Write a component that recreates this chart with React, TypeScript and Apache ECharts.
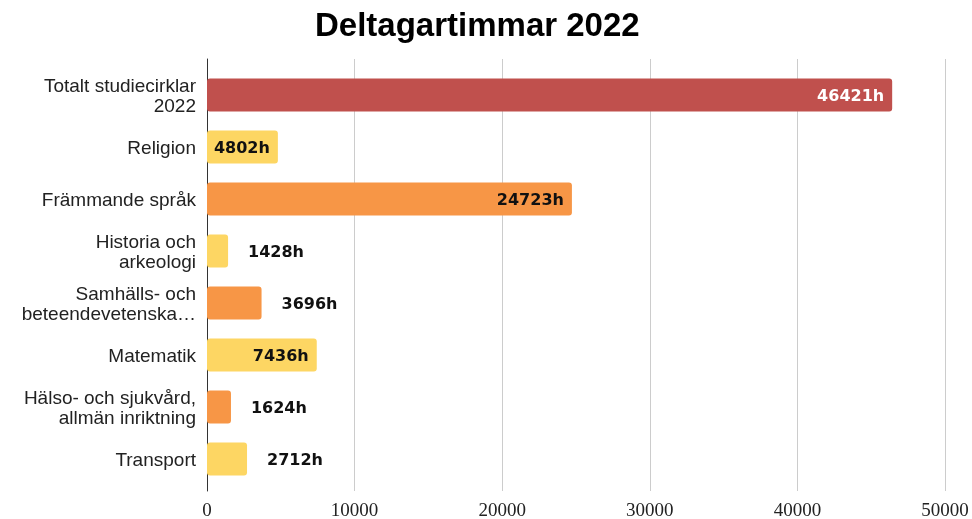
import React, { useEffect, useRef } from "react";
import * as echarts from "echarts";

const title = "Deltagartimmar 2022";
const categories = [
  "Totalt studiecirklar\n2022",
  "Religion",
  "Främmande språk",
  "Historia och\narkeologi",
  "Samhälls- och\nbeteendevetenska…",
  "Matematik",
  "Hälso- och sjukvård,\nallmän inriktning",
  "Transport",
];
const values = [46421, 4802, 24723, 1428, 3696, 7436, 1624, 2712];
const barColors = ["#c0504d", "#fdd663", "#f79646", "#fdd663", "#f79646", "#fdd663", "#f79646", "#fdd663"];
const labelColors = ["#ffffff", "#111111", "#111111", "#111111", "#111111", "#111111", "#111111", "#111111"];
const xTicks = { min: 0, max: 50000, interval: 10000 };

export default function App() {
  const ref = useRef<HTMLDivElement>(null);
  useEffect(() => {
    if (!ref.current) return;
    const chart = echarts.init(ref.current, undefined, { renderer: "svg" });
    const data = values.map((v, i) => {
      const inside = v > 4000;
      return {
        value: v,
        itemStyle: { color: barColors[i], borderRadius: 3 },
        label: {
          show: true,
          position: inside ? "insideRight" : "right",
          distance: inside ? 8 : 20,
          color: labelColors[i],
          formatter: (p: any) => p.value + "h",
          fontFamily: "DejaVu Sans",
          fontWeight: "bold",
          fontSize: 16,
        },
      };
    });
    chart.setOption({
      animation: false,
      title: {
        text: title,
        left: 310,
        top: 3,
        textStyle: { fontFamily: "Liberation Sans", fontWeight: "bold", fontSize: 33, color: "#000" },
      },
      grid: [
        { left: 207, right: 27, top: 59, bottom: 26 },
        { left: 207, right: 27, top: 69, bottom: 34 },
      ],
      xAxis: [
        {
          gridIndex: 0,
          type: "value",
          min: xTicks.min,
          max: xTicks.max,
          interval: xTicks.interval,
          axisLine: { show: false },
          axisTick: { show: false },
          splitLine: { show: true, lineStyle: { color: "#cccccc", width: 1 } },
          axisLabel: {
            fontFamily: "Liberation Serif",
            fontSize: 19,
            color: "#222",
            margin: 9,
            formatter: (v: number) => String(v),
          },
        },
        { gridIndex: 1, type: "value", min: xTicks.min, max: xTicks.max, show: false },
      ],
      yAxis: [
        {
          gridIndex: 0,
          type: "value",
          axisLine: { show: true, lineStyle: { color: "#333", width: 1 } },
          axisTick: { show: false },
          axisLabel: { show: false },
          splitLine: { show: false },
        },
        {
          gridIndex: 1,
          type: "category",
          inverse: true,
          data: categories,
          axisLine: { show: false },
          axisTick: { show: false },
          axisLabel: {
            fontFamily: "Liberation Sans",
            fontSize: 19,
            lineHeight: 20,
            color: "#222",
            margin: 11,
            align: "right",
          },
        },
      ],
      series: [
        {
          type: "bar",
          xAxisIndex: 1,
          yAxisIndex: 1,
          barWidth: 33,
          data,
        },
      ],
    });
    return () => chart.dispose();
  }, []);
  return <div ref={ref} style={{ position: "fixed", left: 0, top: 0, width: 972, height: 519 }} />;
}
